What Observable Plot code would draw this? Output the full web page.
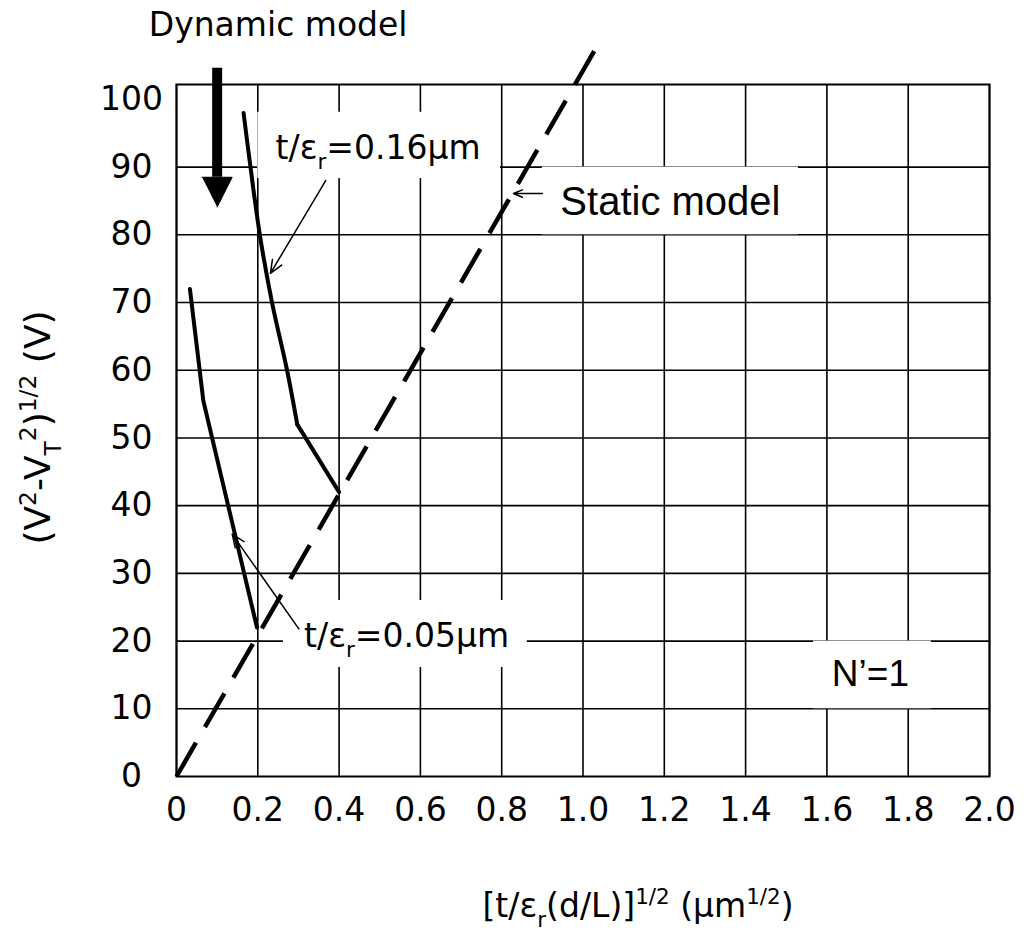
<!DOCTYPE html>
<html>
<head>
<meta charset="utf-8">
<script src="https://cdn.jsdelivr.net/npm/d3@7"></script>
<script src="https://cdn.jsdelivr.net/npm/@observablehq/plot@0.6"></script>
<style>
  html, body { margin: 0; padding: 0; background: #fff; }
  #chart svg { display: block; }
</style>
</head>
<body>
<div id="chart"></div>
<script>
// ---- axis ticks ----
const xTicks = [0, 0.2, 0.4, 0.6, 0.8, 1.0, 1.2, 1.4, 1.6, 1.8, 2.0];
const xTickLabels = ["0", "0.2", "0.4", "0.6", "0.8", "1.0", "1.2", "1.4", "1.6", "1.8", "2.0"];
const yTicks = [0, 10, 20, 30, 40, 50, 60, 70, 80, 90, 100];
const yTickLabels = ["0", "10", "20", "30", "40", "50", "60", "70", "80", "90", "100"];
const yGrid = [10, 20, 30, 40, 50, 60, 70, 80, 90];

// ---- series ----
// Dynamic model, t/εr = 0.16 µm (smooth part, then straight part to the static line)
const dyn016X = [0.165, 0.182, 0.205, 0.235, 0.272, 0.297, 0.400];
const dyn016Y = [98, 90, 80, 70, 60, 52, 42];
// Dynamic model, t/εr = 0.05 µm
const dyn005X = [0.033, 0.050, 0.066, 0.198];
const dyn005Y = [72, 63.5, 55.5, 22];
// Static model (dashed)
const staticX = [0, 1.036];
const staticY = [0, 108];

// ---- annotations (data space) ----
const boxX1 = [0.200, 0.900, 0.263, 1.567];
const boxX2 = [0.797, 1.530, 0.863, 1.857];
const boxY1 = [88.3, 80, 16.1, 10];
const boxY2 = [98.1, 90, 26.0, 20];

const labelText = ["t/ε_{r}=0.16µm", "t/ε_{r}=0.05µm", "Dynamic model"];
const labelX = [0.496, 0.566, 0.250];
const labelY = [92.8, 20.7, 110.9];

const staticLabel = ["Static model"];
const staticLabelX = [1.215];
const staticLabelY = [84.8];
const nLabel = ["N’=1"];
const nLabelX = [1.707];
const nLabelY = [15.1];

const arrowX1 = [0.367, 0.301, 0.900];
const arrowY1 = [88.0, 21.8, 86.1];
const arrowX2 = [0.231, 0.137, 0.829];
const arrowY2 = [74.3, 35.8, 86.1];

const bigArrowX = [0.1];
const bigArrowTop = [104.6];
const bigArrowBase = [88.5];
const bigHeadX = [0.063, 0.137, 0.100];
const bigHeadY = [88.5, 88.5, 84.1];

const xLabel = ["[t/ε_{r}(d/L)]^{1/2} (µm^{1/2})"];
const yLabel = ["(V^{2}-V_{T}^{2})^{1/2} (V)"];

const tickFmtX = d => xTickLabels[xTicks.findIndex(t => Math.abs(t - d) < 1e-9)];
const tickFmtY = d => yTickLabels[yTicks.indexOf(d)];

const toPts = (xs, ys) => xs.map((x, i) => ({x, y: ys[i]}));
const boxes = boxX1.map((x1, i) => ({x1, x2: boxX2[i], y1: boxY1[i], y2: boxY2[i]}));
const arrows = arrowX1.map((x1, i) => ({x1, y1: arrowY1[i], x2: arrowX2[i], y2: arrowY2[i]}));
const p016 = toPts(dyn016X, dyn016Y);

const plot = Plot.plot({
  width: 1031,
  height: 931,
  marginLeft: 176,
  marginRight: 42,
  marginTop: 84,
  marginBottom: 155,
  x: {domain: [0, 2], ticks: xTicks},
  y: {domain: [0, 102.2], ticks: yTicks},
  style: {fontFamily: "DejaVu Sans", fontSize: "33px", color: "black", background: "white", overflow: "visible"},
  marks: [
    Plot.gridX(xTicks, {stroke: "black", strokeOpacity: 1, strokeWidth: 1.6}),
    Plot.gridY(yGrid, {stroke: "black", strokeOpacity: 1, strokeWidth: 1.6}),
    Plot.rect(boxes, {x1: "x1", x2: "x2", y1: "y1", y2: "y2", fill: "white"}),
    Plot.frame({stroke: "black", strokeWidth: 2}),
    Plot.axisX({ticks: xTicks, tickFormat: tickFmtX, tickSize: 0, tickPadding: 21, label: null, fontSize: 33}),
    Plot.axisY({ticks: yTicks, tickFormat: tickFmtY, tickSize: 0, tickPadding: 45, textAnchor: "middle", label: null, fontSize: 33}),
    Plot.line(toPts(staticX, staticY), {x: "x", y: "y", stroke: "black", strokeWidth: 4.5, strokeDasharray: "39,18", strokeLinecap: "butt"}),
    Plot.line(p016.slice(0, 6), {x: "x", y: "y", stroke: "black", strokeWidth: 4, curve: "catmull-rom"}),
    Plot.line(p016.slice(5), {x: "x", y: "y", stroke: "black", strokeWidth: 4}),
    Plot.line(toPts(dyn005X, dyn005Y), {x: "x", y: "y", stroke: "black", strokeWidth: 4, strokeLinejoin: "miter"}),
    Plot.arrow(arrows, {x1: "x1", y1: "y1", x2: "x2", y2: "y2", stroke: "black", strokeWidth: 1.5, headLength: 14, headAngle: 45}),
    Plot.ruleX(bigArrowX, {x: d => d, y1: (d, i) => bigArrowBase[i], y2: (d, i) => bigArrowTop[i], stroke: "black", strokeWidth: 10}),
    Plot.line(toPts(bigHeadX, bigHeadY), {x: "x", y: "y", fill: "black", stroke: "black", strokeWidth: 1}),
    Plot.text(labelText, {x: (d, i) => labelX[i], y: (d, i) => labelY[i], text: d => d, fontSize: 33, fontFamily: "DejaVu Sans", fill: "black", textAnchor: "middle", lineAnchor: "middle"}),
    Plot.text(staticLabel, {x: (d, i) => staticLabelX[i], y: (d, i) => staticLabelY[i], text: d => d, fontSize: 40, fontFamily: "Liberation Sans", fill: "black", textAnchor: "middle", lineAnchor: "middle"}),
    Plot.text(nLabel, {x: (d, i) => nLabelX[i], y: (d, i) => nLabelY[i], text: d => d, fontSize: 37, fontFamily: "Liberation Sans", fill: "black", textAnchor: "middle", lineAnchor: "middle"}),
    Plot.text(xLabel, {frameAnchor: "bottom", dx: 55, dy: 130, text: d => d, fontSize: 33, fontFamily: "DejaVu Sans", fill: "black", textAnchor: "middle", lineAnchor: "middle"}),
    Plot.text(yLabel, {frameAnchor: "left", dx: -138, dy: -3, rotate: -90, text: d => d, fontSize: 36, fontFamily: "DejaVu Sans", fill: "black", textAnchor: "middle", lineAnchor: "middle"})
  ]
});

document.getElementById("chart").appendChild(plot);

// rich text: _{sub} and ^{sup}
function richify(el) {
  const raw = el.textContent;
  if (!/[_^]\{/.test(raw)) return;
  const fs = parseFloat(getComputedStyle(el).fontSize) || 32;
  const segs = [];
  const re = /([_^])\{([^}]*)\}/g;
  let last = 0, m;
  while ((m = re.exec(raw)) !== null) {
    if (m.index > last) segs.push({t: "n", s: raw.slice(last, m.index)});
    segs.push({t: m[1] === "_" ? "sub" : "sup", s: m[2]});
    last = re.lastIndex;
  }
  if (last < raw.length) segs.push({t: "n", s: raw.slice(last)});
  while (el.firstChild) el.removeChild(el.firstChild);
  let shift = 0;
  const ns = "http://www.w3.org/2000/svg";
  for (const seg of segs) {
    const target = seg.t === "sub" ? 0.30 * fs : seg.t === "sup" ? -0.40 * fs : 0;
    const ts = document.createElementNS(ns, "tspan");
    ts.textContent = seg.s;
    if (target !== shift) ts.setAttribute("dy", (target - shift).toFixed(2));
    shift = target;
    if (seg.t !== "n") ts.setAttribute("font-size", (0.65 * fs).toFixed(2));
    el.appendChild(ts);
  }
}
d3.select(plot).selectAll("text").each(function() { richify(this); });
</script>
</body>
</html>
